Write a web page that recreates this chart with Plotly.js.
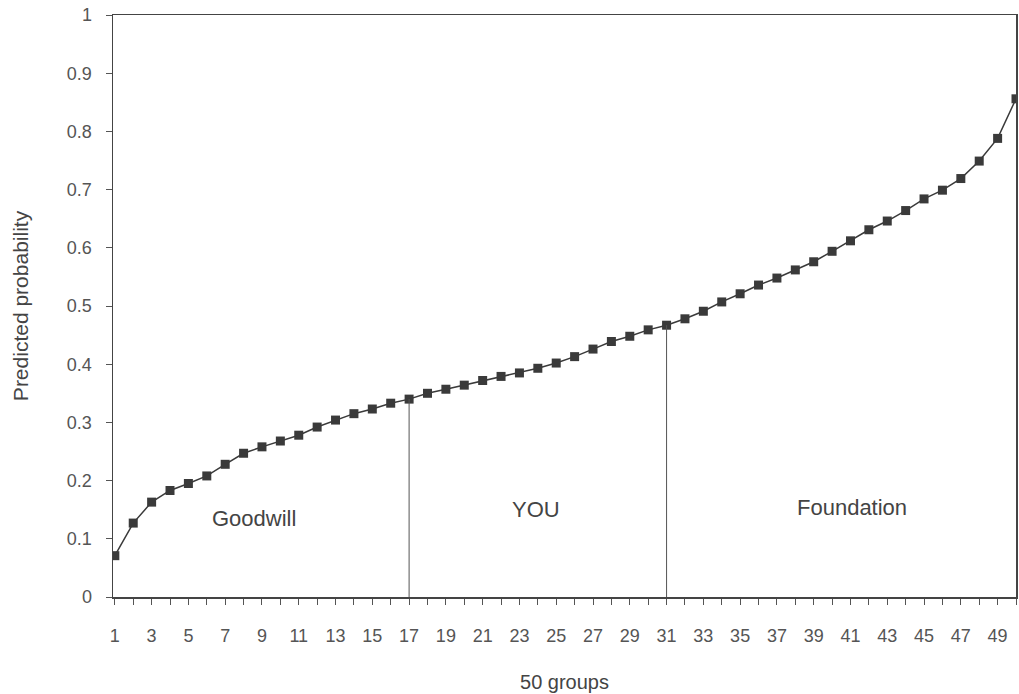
<!DOCTYPE html>
<html>
<head>
<meta charset="utf-8">
<script src="https://cdn.plot.ly/plotly-3.0.1.min.js"></script>
<style>html,body{margin:0;padding:0;background:#fff;}#chart{width:1019px;height:694px;}</style>
</head>
<body>
<div id="chart"></div>
<script>
// 50 groups, sorted predicted probabilities
const groups = Array.from({length: 50}, (_, i) => i + 1);
const probability = [
  0.071, 0.127, 0.163, 0.183, 0.195, 0.208, 0.228, 0.247, 0.258, 0.268,
  0.278, 0.292, 0.304, 0.315, 0.323, 0.333, 0.340, 0.350, 0.357, 0.364,
  0.372, 0.379, 0.385, 0.393, 0.402, 0.413, 0.426, 0.439, 0.448, 0.459,
  0.467, 0.478, 0.491, 0.507, 0.521, 0.536, 0.548, 0.562, 0.576, 0.594,
  0.612, 0.631, 0.646, 0.664, 0.684, 0.699, 0.719, 0.749, 0.788, 0.856
];
const tickValues = [1,3,5,7,9,11,13,15,17,19,21,23,25,27,29,31,33,35,37,39,41,43,45,47,49];
const yTickValues = [0,0.1,0.2,0.3,0.4,0.5,0.6,0.7,0.8,0.9,1];
const yTickLabels = ["0","0.1","0.2","0.3","0.4","0.5","0.6","0.7","0.8","0.9","1"];
const dividerGroups = [17, 31];
const regionLabels = ["Goodwill", "YOU", "Foundation"];
const regionX = [8.55, 23.9, 41.1];
const regionY = [0.135, 0.150, 0.153];

const FONT = 'Liberation Sans, Arial, sans-serif';

const dividerShapes = dividerGroups.map(g => ({
  type: 'line', xref: 'x', yref: 'y',
  x0: g, x1: g, y0: 0, y1: probability[g - 1],
  line: {color: '#555', width: 1}
}));

const annotations = regionLabels.map((t, i) => ({
  x: regionX[i], y: regionY[i], xref: 'x', yref: 'y', text: t, showarrow: false,
  font: {family: FONT, size: 22, color: '#444'}
}));

const trace = {
  x: groups, y: probability, type: 'scatter', mode: 'lines+markers',
  line: {color: '#3a3a3a', width: 1.5},
  marker: {symbol: 'square', size: 9, color: '#3a3a3a'},
  hoverinfo: 'skip'
};

const layout = {
  width: 1019, height: 694,
  margin: {l: 113, r: 3, t: 15, b: 97},
  paper_bgcolor: '#fff', plot_bgcolor: '#fff',
  showlegend: false,
  xaxis: {
    range: [0.9, 50], tickvals: tickValues, ticktext: tickValues.map(String),
    ticks: 'outside', ticklen: 6, tickcolor: '#555', tickwidth: 1,
    minor: {tickvals: groups, ticks: 'outside', ticklen: 6, tickcolor: '#555'},
    showgrid: false, zeroline: false, showline: true, linecolor: '#444', linewidth: 1.5,
    mirror: true, tickfont: {family: FONT, size: 18, color: '#555'}, ticklabelstandoff: 16,
    title: {text: '50 groups', font: {family: FONT, size: 20, color: '#444'}, standoff: 30}
  },
  yaxis: {
    range: [0, 1], tickvals: yTickValues, ticktext: yTickLabels,
    ticks: 'outside', ticklen: 6, tickcolor: '#555', tickwidth: 1,
    showgrid: false, zeroline: false, showline: true, linecolor: '#444', linewidth: 1.5,
    mirror: true, tickfont: {family: FONT, size: 18, color: '#555'}, ticklabelstandoff: 10,
    title: {text: 'Predicted probability', font: {family: FONT, size: 21, color: '#444'}, standoff: 32}
  },
  shapes: dividerShapes,
  annotations: annotations
};

Plotly.newPlot('chart', [trace], layout, {displayModeBar: false, staticPlot: true});
</script>
</body>
</html>
